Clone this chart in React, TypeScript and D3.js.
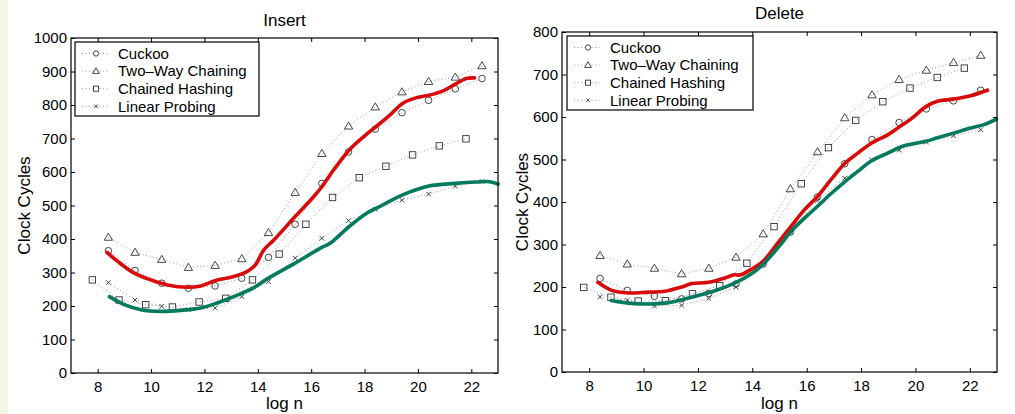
import * as d3 from "d3";
import { useEffect, useRef } from "react";

// x positions (log n) of the measured points
const logN = [8.4, 9.4, 10.4, 11.4, 12.4, 13.4, 14.4, 15.4, 16.4, 17.4, 18.4, 19.4, 20.4, 21.4, 22.4];
const logNChained = [7.8, 8.8, 9.8, 10.8, 11.8, 12.8, 13.8, 14.8, 15.8, 16.8, 17.8, 18.8, 19.8, 20.8, 21.8];
const xTicks = [8, 10, 12, 14, 16, 18, 20, 22];
const insertYTicks = [0, 100, 200, 300, 400, 500, 600, 700, 800, 900, 1000];
const deleteYTicks = [0, 100, 200, 300, 400, 500, 600, 700, 800];
const legendNames = ["Cuckoo", "Two\u2013Way Chaining", "Chained Hashing", "Linear Probing"];

// Insert
const insCuckoo = [365, 306, 268, 253, 260, 283, 345, 444, 566, 660, 728, 777, 814, 848, 879];
const insTwoWay = [405, 360, 339, 315, 321, 341, 419, 539, 655, 737, 794, 839, 870, 883, 917];
const insChained = [278, 218, 204, 197, 212, 223, 278, 355, 444, 524, 583, 617, 651, 678, 699];
const insLinear = [270, 218, 199, 189, 194, 228, 273, 343, 402, 455, 489, 516, 534, 558, 572];

const insRedX = [8.35, 8.75, 9.37, 9.99, 10.61, 11.36, 11.86, 12.42, 13.1, 13.6, 13.91, 14.22, 14.6, 15.4, 16.09, 16.4, 16.84, 17.42, 17.96, 18.42, 18.95, 19.41, 19.95, 20.41, 20.94, 21.44, 21.81, 22.12];
const insRedY = [360, 333, 298, 278, 263, 256, 260, 276, 288, 303, 323, 367, 397, 467, 526, 556, 606, 665, 705, 735, 770, 804, 822, 829, 842, 864, 879, 881];
const insGreenX = [8.44, 9.0, 9.62, 10.36, 11.11, 11.86, 12.48, 13.1, 13.85, 14.35, 15.4, 16.4, 16.71, 17.42, 18.08, 18.45, 19.41, 20.41, 21.4, 22.19, 22.68, 23.0];
const insGreenY = [228, 204, 189, 184, 187, 194, 209, 228, 255, 281, 328, 375, 387, 437, 477, 492, 531, 558, 566, 570, 571, 564];

// Delete
const delCuckoo = [220, 192, 178, 172, 185, 207, 254, 329, 412, 490, 547, 587, 619, 638, 663];
const delTwoWay = [274, 254, 244, 231, 244, 270, 325, 431, 518, 598, 652, 688, 710, 728, 745];
const delChained = [199, 176, 167, 168, 184, 203, 256, 342, 443, 528, 592, 636, 668, 693, 715];
const delLinear = [177, 169, 155, 157, 173, 200, 254, 330, 404, 456, 499, 522, 541, 556, 570];

const delRedX = [8.32, 8.83, 9.44, 10.18, 10.79, 11.4, 11.77, 12.4, 12.99, 13.35, 13.54, 13.97, 14.39, 14.94, 15.43, 15.92, 16.4, 16.9, 17.39, 17.88, 18.39, 18.98, 19.39, 19.83, 20.4, 20.81, 21.39, 22.03, 22.65];
const delRedY = [211, 192, 186, 188, 190, 200, 208, 211, 221, 229, 228, 242, 260, 304, 343, 382, 413, 453, 490, 515, 539, 558, 576, 595, 625, 637, 642, 650, 663];
const delGreenX = [8.81, 9.44, 10.18, 10.79, 11.4, 12.01, 12.62, 13.35, 13.97, 14.39, 14.94, 15.43, 15.92, 16.4, 16.9, 17.39, 17.88, 18.39, 18.98, 19.53, 20.39, 20.81, 21.61, 22.03, 22.52, 22.98];
const delGreenY = [168, 162, 160, 162, 170, 180, 191, 209, 231, 253, 292, 331, 362, 390, 420, 447, 472, 497, 515, 531, 543, 551, 566, 574, 582, 595];

const FONT = "'Liberation Sans', Arial, Helvetica, sans-serif";
const RED = "#d90a0a";
const GREEN = "#027a5d";
const MARK = "#333";

type Cfg = {
  title: string;
  yMax: number;
  yTicks: number[];
  left: number;
  right: number;
  top: number;
  bottom: number;
  titleY: number;
  ylabelX: number;
  legend: { x: number; y: number; w: number; h: number };
  series: { xs: number[]; ys: number[]; shape: string }[];
  red: { xs: number[]; ys: number[] };
  green: { xs: number[]; ys: number[] };
};

const shapes = ["circle", "triangle", "square", "cross"];

function drawMarker(g: any, shape: string, cx: number, cy: number, s: number) {
  if (shape === "circle") {
    g.append("circle").attr("cx", cx).attr("cy", cy).attr("r", 3.3 * s);
  } else if (shape === "triangle") {
    const h = 4.2 * s;
    g.append("path").attr("d", `M${cx},${cy - h}L${cx + h},${cy + h * 0.7}L${cx - h},${cy + h * 0.7}Z`);
  } else if (shape === "square") {
    const h = 3.2 * s;
    g.append("rect").attr("x", cx - h).attr("y", cy - h).attr("width", 2 * h).attr("height", 2 * h);
  } else {
    const h = 2.3 * s;
    g.append("path").attr("d", `M${cx - h},${cy - h}L${cx + h},${cy + h}M${cx - h},${cy + h}L${cx + h},${cy - h}`);
  }
}

const Panel = ({ cfg }: { cfg: Cfg }) => {
  const ref = useRef<SVGGElement>(null);

  useEffect(() => {
    const root = d3.select(ref.current);
    root.selectAll("*").remove();

    const x = d3.scaleLinear().domain([7, 23]).range([cfg.left, cfg.right]);
    const y = d3.scaleLinear().domain([0, cfg.yMax]).range([cfg.bottom, cfg.top]);

    // dotted measurement lines + markers
    cfg.series.forEach((s) => {
      const pts = s.xs.map((v, i) => [x(v), y(s.ys[i])] as [number, number]);
      root.append("path")
        .attr("d", d3.line()(pts))
        .attr("fill", "none")
        .attr("stroke", "#9a9a9a")
        .attr("stroke-width", 1)
        .attr("stroke-dasharray", "1 2.5");
      const mg = root.append("g").attr("fill", "none").attr("stroke", MARK).attr("stroke-width", 0.9);
      pts.forEach(([px, py]) => drawMarker(mg, s.shape, px, py, 1));
    });

    // hand drawn trend lines
    const smooth = d3.line().curve(d3.curveCatmullRom.alpha(0.5));
    [[cfg.red, RED], [cfg.green, GREEN]].forEach(([c, col]: any) => {
      const pts = c.xs.map((v: number, i: number) => [x(v), y(c.ys[i])] as [number, number]);
      root.append("path")
        .attr("d", smooth(pts))
        .attr("fill", "none")
        .attr("stroke", col)
        .attr("stroke-width", 3.6)
        .attr("stroke-linecap", "round")
        .attr("stroke-linejoin", "round");
    });

    // axes, MATLAB style ticks pointing inward on all sides
    const styleAxis = (g: any) => {
      g.select(".domain").remove();
      g.selectAll("line").attr("stroke", "#000");
      g.attr("font-size", 15).attr("font-family", FONT);
      g.selectAll("text").attr("fill", "#000");
    };
    const fmt = d3.format("d");
    root.append("g")
      .attr("transform", `translate(0,${cfg.bottom})`)
      .call(d3.axisBottom(x).tickValues(xTicks).tickFormat(fmt).tickSizeInner(-4).tickSizeOuter(0).tickPadding(8))
      .call(styleAxis);
    root.append("g")
      .attr("transform", `translate(0,${cfg.top})`)
      .call(d3.axisTop(x).tickValues(xTicks).tickSizeInner(-4).tickSizeOuter(0).tickFormat(() => ""))
      .call(styleAxis);
    root.append("g")
      .attr("transform", `translate(${cfg.left},0)`)
      .call(d3.axisLeft(y).tickValues(cfg.yTicks).tickFormat(fmt).tickSizeInner(-4).tickSizeOuter(0).tickPadding(4))
      .call(styleAxis);
    root.append("g")
      .attr("transform", `translate(${cfg.right},0)`)
      .call(d3.axisRight(y).tickValues(cfg.yTicks).tickSizeInner(-4).tickSizeOuter(0).tickFormat(() => ""))
      .call(styleAxis);

    root.append("rect")
      .attr("x", cfg.left)
      .attr("y", cfg.top)
      .attr("width", cfg.right - cfg.left)
      .attr("height", cfg.bottom - cfg.top)
      .attr("fill", "none")
      .attr("stroke", "#000")
      .attr("stroke-width", 1.2);

    // texts
    const cx = (cfg.left + cfg.right) / 2;
    root.append("text")
      .attr("x", cx).attr("y", cfg.titleY)
      .attr("text-anchor", "middle")
      .attr("font-family", FONT).attr("font-size", 17)
      .text(cfg.title);
    root.append("text")
      .attr("x", cx).attr("y", 409)
      .attr("text-anchor", "middle")
      .attr("font-family", FONT).attr("font-size", 17)
      .text("log n");
    root.append("text")
      .attr("transform", `translate(${cfg.ylabelX},${(cfg.top + cfg.bottom) / 2}) rotate(-90)`)
      .attr("text-anchor", "middle")
      .attr("font-family", FONT).attr("font-size", 17)
      .text("Clock Cycles");

    // legend
    const L = cfg.legend;
    const lg = root.append("g");
    lg.append("rect")
      .attr("x", L.x).attr("y", L.y).attr("width", L.w).attr("height", L.h)
      .attr("fill", "#fff").attr("stroke", "#000").attr("stroke-width", 1.2);
    legendNames.forEach((name, i) => {
      const ry = L.y + 11.5 + i * 17.6;
      lg.append("line")
        .attr("x1", L.x + 7).attr("x2", L.x + 33).attr("y1", ry).attr("y2", ry)
        .attr("stroke", "#9a9a9a").attr("stroke-dasharray", "1 2.5");
      const mg = lg.append("g").attr("fill", "#fff").attr("stroke", MARK).attr("stroke-width", 0.9);
      drawMarker(mg, shapes[i], L.x + 21, ry, 0.8);
      lg.append("text")
        .attr("x", L.x + 43).attr("y", ry + 5.3)
        .attr("font-family", FONT).attr("font-size", 15)
        .text(name);
    });
  }, [cfg]);

  return <g ref={ref} />;
};

const insertCfg: Cfg = {
  title: "Insert",
  yMax: 1000,
  yTicks: insertYTicks,
  left: 71,
  right: 498,
  top: 38,
  bottom: 373,
  titleY: 26,
  ylabelX: 30,
  legend: { x: 75, y: 42, w: 184, h: 74 },
  series: [
    { xs: logN, ys: insCuckoo, shape: "circle" },
    { xs: logN, ys: insTwoWay, shape: "triangle" },
    { xs: logNChained, ys: insChained, shape: "square" },
    { xs: logN, ys: insLinear, shape: "cross" },
  ],
  red: { xs: insRedX, ys: insRedY },
  green: { xs: insGreenX, ys: insGreenY },
};

const deleteCfg: Cfg = {
  title: "Delete",
  yMax: 800,
  yTicks: deleteYTicks,
  left: 562,
  right: 997,
  top: 32,
  bottom: 372,
  titleY: 19,
  ylabelX: 528,
  legend: { x: 567, y: 36, w: 186, h: 74 },
  series: [
    { xs: logN, ys: delCuckoo, shape: "circle" },
    { xs: logN, ys: delTwoWay, shape: "triangle" },
    { xs: logNChained, ys: delChained, shape: "square" },
    { xs: logN, ys: delLinear, shape: "cross" },
  ],
  red: { xs: delRedX, ys: delRedY },
  green: { xs: delGreenX, ys: delGreenY },
};

export default function App() {
  return (
    <div style={{ position: "absolute", left: 0, top: 0 }}>
      <svg width={1015} height={414} style={{ display: "block", background: "#fff" }}>
        <rect x={0} y={0} width={8} height={414} fill="#f6f4e7" />
        <Panel cfg={insertCfg} />
        <Panel cfg={deleteCfg} />
      </svg>
    </div>
  );
}
